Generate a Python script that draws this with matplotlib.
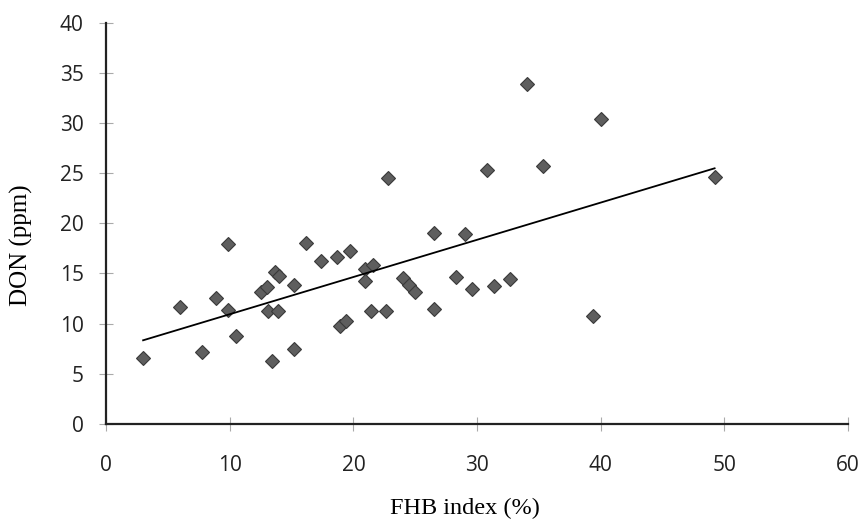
import numpy as np
import matplotlib
matplotlib.use('Agg')
import matplotlib.pyplot as plt

# FHB index (%) and DON (ppm)
fhb = [3.0, 6.0, 7.8, 8.9, 9.9, 9.9, 10.5,
       12.5, 13.0, 13.7, 14.0, 13.1, 13.9, 13.4, 15.2, 15.2,
       16.2, 17.4, 18.7, 19.7, 18.9, 19.4,
       20.9, 21.6, 20.9, 21.4, 22.6, 22.8,
       24.0, 24.5, 25.0, 26.5, 26.5, 28.3, 29.0, 29.6,
       30.8, 31.4, 32.7, 34.0, 35.3, 39.4, 40.0, 49.2]
don = [6.6, 11.7, 7.2, 12.6, 17.9, 11.4, 8.8,
       13.2, 13.7, 15.1, 14.7, 11.3, 11.3, 6.3, 7.5, 13.9,
       18.0, 16.2, 16.6, 17.2, 9.8, 10.3,
       15.4, 15.8, 14.2, 11.3, 11.3, 24.5,
       14.5, 13.9, 13.2, 19.0, 11.5, 14.6, 18.9, 13.5,
       25.3, 13.8, 14.4, 33.9, 25.7, 10.8, 30.4, 24.6]

xticks = [0, 10, 20, 30, 40, 50, 60]
yticks = [0, 5, 10, 15, 20, 25, 30, 35, 40]

fig = plt.figure(figsize=(8.64, 5.23), dpi=100)
ax = fig.add_axes([0.1227, 0.1893, 0.859, 0.7675])

ax.plot(fhb, don, linestyle='none', marker='D', markersize=7.5,
        markerfacecolor='#5e5e5e', markeredgecolor='#3a3a3a', markeredgewidth=0.8)

# linear trend line over the data range
k, b = np.polyfit(fhb, don, 1)
xs = np.array([min(fhb), max(fhb)])
ax.plot(xs, k * xs + b, color='black', linewidth=1.3)

ax.set_xlim(0, 60)
ax.set_ylim(0, 40)
ax.set_xticks(xticks)
ax.set_yticks(yticks)
for s in ['top', 'right']:
    ax.spines[s].set_visible(False)
for s in ['left', 'bottom']:
    ax.spines[s].set_linewidth(1.6)
    ax.spines[s].set_color('#222222')
ax.tick_params(direction='inout', length=10, width=0.8, color='#aaaaaa',
               labelsize=15, labelcolor='#222222')
ax.tick_params(axis='y', pad=11)
ax.tick_params(axis='x', pad=17)
for lab in ax.get_xticklabels() + ax.get_yticklabels():
    lab.set_family('Open Sans')

ax.set_xlabel('FHB index (%)', family='Liberation Serif', fontsize=17.5)
ax.set_ylabel('DON (ppm)', family='Liberation Serif', fontsize=18)
ax.xaxis.set_label_coords(0.484, -0.185)
ax.yaxis.set_label_coords(-0.098, 0.446)

fig.savefig('out.png', dpi=100)
